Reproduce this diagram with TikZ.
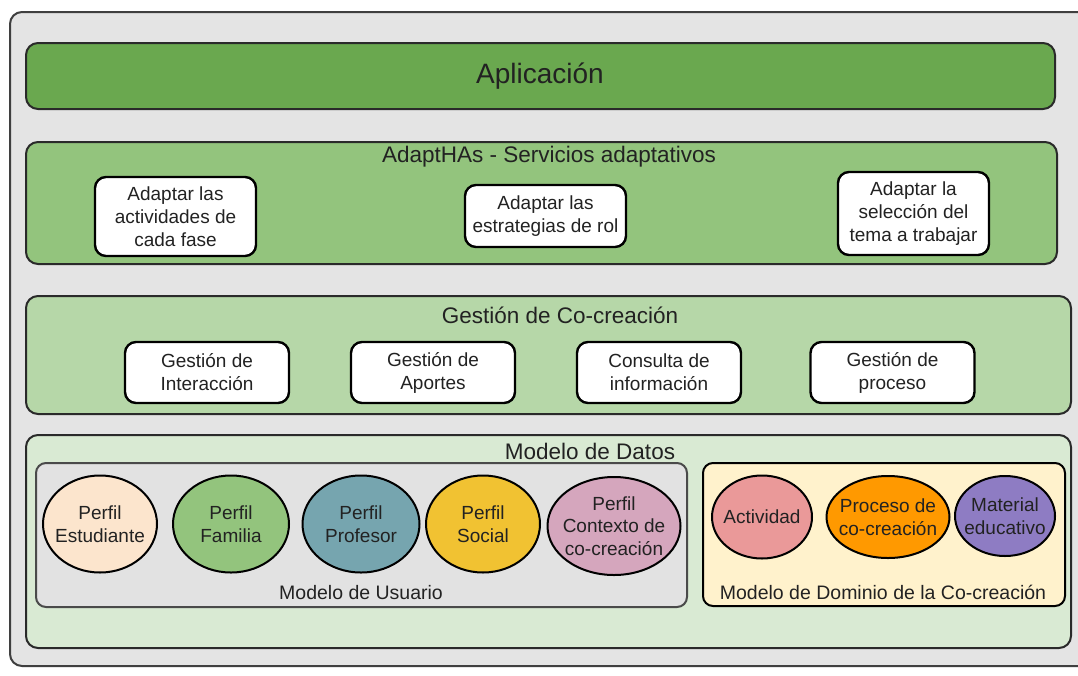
\documentclass[tikz,border=0pt]{standalone}
\usepackage{fontspec}
\setmainfont{Liberation Sans}
\usetikzlibrary{shapes.geometric}
\definecolor{outerbg}{HTML}{E4E4E4}
\definecolor{linec}{HTML}{2A2A2A}
\definecolor{txt}{HTML}{222222}
\definecolor{appc}{HTML}{6AA84F}
\definecolor{adaptc}{HTML}{93C47D}
\definecolor{gestc}{HTML}{B6D7A8}
\definecolor{datosc}{HTML}{D9EAD3}
\definecolor{userc}{HTML}{E2E2E2}
\definecolor{domc}{HTML}{FFF2CC}
\definecolor{cEst}{HTML}{FCE5CD}
\definecolor{cFam}{HTML}{93C47D}
\definecolor{cProf}{HTML}{76A5AF}
\definecolor{cSoc}{HTML}{F1C232}
\definecolor{cCtx}{HTML}{D5A6BD}
\definecolor{cAct}{HTML}{EA9999}
\definecolor{cProc}{HTML}{FF9900}
\definecolor{cMat}{HTML}{8E7CC3}
\newcommand\myfs[2]{\fontsize{#1}{#2}\selectfont}
\begin{document}
\begin{tikzpicture}[x=1pt,y=-1pt,
  box/.style={rectangle, draw=linec, line width=2pt, rounded corners=12pt, inner sep=0pt, outer sep=0pt},
  wbox/.style={rectangle, draw=black, fill=white, line width=2.4pt, rounded corners=11pt, inner sep=0pt, align=center, font=\myfs{19}{23}, text=txt},
  ttl/.style={font=\myfs{22.5}{26}, text=txt, inner sep=0pt},
  sub/.style={font=\myfs{19.5}{23}, text=txt, inner sep=0pt},
  blob/.style={ellipse, draw=black, line width=2pt, inner sep=0pt},
  lbl/.style={align=center, font=\myfs{19}{22.5}, text=txt, inner sep=0pt}
]
\useasboundingbox (0,0) rectangle (1078,675);
\clip (0,0) rectangle (1078,675);
\fill[white] (0,0) rectangle (1078,675);

% outer container (right side runs past the picture edge)
\node[box, draw=linec!90, fill=outerbg, minimum width=1090pt, minimum height=654pt] (outer) at (555,339) {};

% Aplicacion
\node[box, fill=appc, minimum width=1029pt, minimum height=66pt] (app) at (540.5,76) {};
\node[font=\myfs{28}{32}, text=txt, inner sep=0pt] (apptxt) at (540,76) {Aplicación};

% AdaptHAs
\node[box, fill=adaptc, minimum width=1031pt, minimum height=122pt] (adapt) at (541.5,203) {};
\node[ttl] (adaptttl) at (549,157) {AdaptHAs - Servicios adaptativos};
\node[wbox, minimum width=161pt, minimum height=79pt] (a1) at (175.5,216.5) {Adaptar las\\actividades de\\cada fase};
\node[wbox, minimum width=161pt, minimum height=62pt] (a2) at (545.5,216) {Adaptar las\\estrategias de rol};
\node[wbox, minimum width=151pt, minimum height=83pt] (a3) at (913.5,213.5) {Adaptar la\\selección del\\tema a trabajar};

% Gestion de Co-creacion
\node[box, fill=gestc, minimum width=1045pt, minimum height=118pt] (gest) at (548.5,355) {};
\node[ttl] (gestttl) at (560,315) {Gestión de Co-creación};
\node[wbox, minimum width=164pt, minimum height=61pt] (g1) at (207,372.5) {Gestión de\\Interacción};
\node[wbox, minimum width=164pt, minimum height=61pt] (g2) at (433,372.5) {Gestión de\\Aportes};
\node[wbox, minimum width=164pt, minimum height=61pt] (g3) at (659,372.5) {Consulta de\\información};
\node[wbox, minimum width=164pt, minimum height=61pt] (g4) at (892.5,372.5) {Gestión de\\proceso};

% Modelo de Datos
\node[box, fill=datosc, minimum width=1045pt, minimum height=213pt] (datos) at (548.5,541.5) {};
\node[ttl] (datosttl) at (590,451) {Modelo de Datos};

% Modelo de Usuario
\node[box, draw=linec!85, fill=userc, rounded corners=10pt, minimum width=651pt, minimum height=144pt] (user) at (361.5,535) {};
\node[sub] (userlbl) at (361,593) {Modelo de Usuario};
\node[blob, fill=cEst, minimum width=114pt, minimum height=97pt, label={[lbl]center:Perfil\\Estudiante}] (c1) at (100,524) {};
\node[blob, fill=cFam, minimum width=116pt, minimum height=97pt, label={[lbl]center:Perfil\\Familia}] (c2) at (231,524) {};
\node[blob, fill=cProf, minimum width=117pt, minimum height=97pt, label={[lbl]center:Perfil\\Profesor}] (c3) at (361,524) {};
\node[blob, fill=cSoc, minimum width=114pt, minimum height=97pt, label={[lbl]center:Perfil\\Social}] (c4) at (483,524) {};
\node[blob, fill=cCtx, minimum width=133pt, minimum height=98pt, label={[lbl]center:Perfil\\Contexto de\\co-creación}] (c5) at (614,526) {};

% Modelo de Dominio
\node[box, draw=black, fill=domc, rounded corners=10pt, minimum width=362pt, minimum height=143pt] (dom) at (884,534.5) {};
\node[sub] (domlbl) at (883,592) {Modelo de Dominio de la Co-creación};
\node[blob, fill=cAct, minimum width=100pt, minimum height=83pt, label={[lbl]center:Actividad}] (d1) at (762,517) {};
\node[blob, fill=cProc, minimum width=123pt, minimum height=82pt, label={[lbl]center:Proceso de\\co-creación}] (d2) at (888,517) {};
\node[blob, fill=cMat, minimum width=100pt, minimum height=80pt, label={[lbl]center:Material\\educativo}] (d3) at (1005,516) {};
\end{tikzpicture}
\end{document}
